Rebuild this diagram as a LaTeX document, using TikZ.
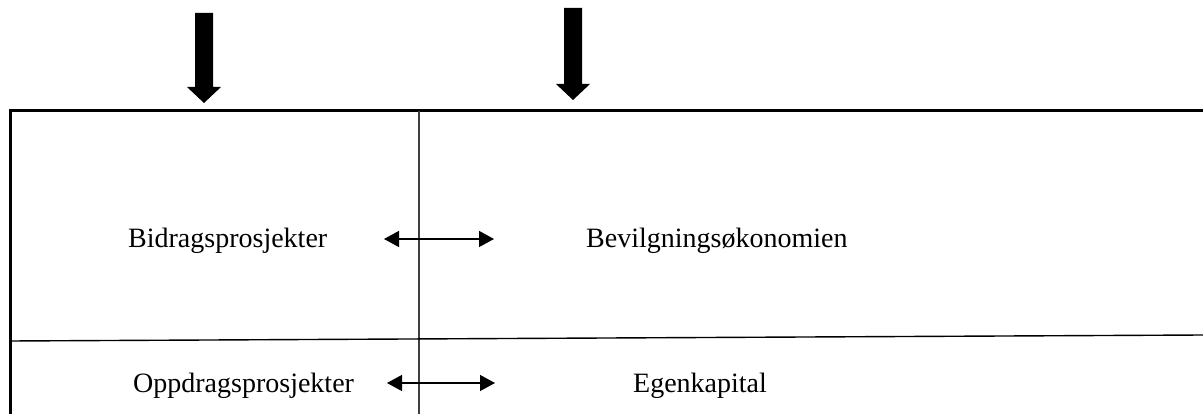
\documentclass[tikz,border=0pt]{standalone}
\usepackage{fontspec}
\setmainfont{Liberation Serif}
\usetikzlibrary{arrows.meta}
\begin{document}
\begin{tikzpicture}[x=1pt,y=-1pt,
  lbl/.style={anchor=base west,inner sep=0pt,font=\fontsize{28}{32}\selectfont},
  dbl/.style={line width=1.4pt,{Triangle[length=15pt,width=16pt]}-{Triangle[length=15pt,width=16pt]}},
  thick border/.style={line width=3pt},
  thin rule/.style={line width=1.5pt,draw=black!75},
  blockarrow/.style={fill=black,draw=none}]
\useasboundingbox (0,0) rectangle (1203,414);
% block arrows
\fill[blockarrow] (195,13) -- (213,13) -- (213,87) -- (221,87) -- (204,103) -- (187,87) -- (195,87) -- cycle;
\fill[blockarrow] (564,8) -- (582,8) -- (582,84) -- (590,84) -- (573,100) -- (556,84) -- (564,84) -- cycle;
% frame
\draw[thick border] (10,414) -- (10,111) -- (1203,111);
\draw[thin rule] (419,111) -- (419,414);
\draw[line width=1.4pt] (10,341) -- (1203,335);
% labels
\node[lbl] (bid) at (128,248) {Bidragsprosjekter};
\node[lbl] (bev) at (586,248) {Bevilgningsøkonomien};
\node[lbl] (opp) at (133,392) {Oppdragsprosjekter};
\node[lbl] (egen) at (633,392) {Egenkapital};
% double arrows
\coordinate (a1) at (384,239);
\coordinate (b1) at (494,239);
\coordinate (a2) at (387,383);
\coordinate (b2) at (495,383);
\draw[dbl] (a1) -- (b1);
\draw[dbl] (a2) -- (b2);
\end{tikzpicture}
\end{document}
